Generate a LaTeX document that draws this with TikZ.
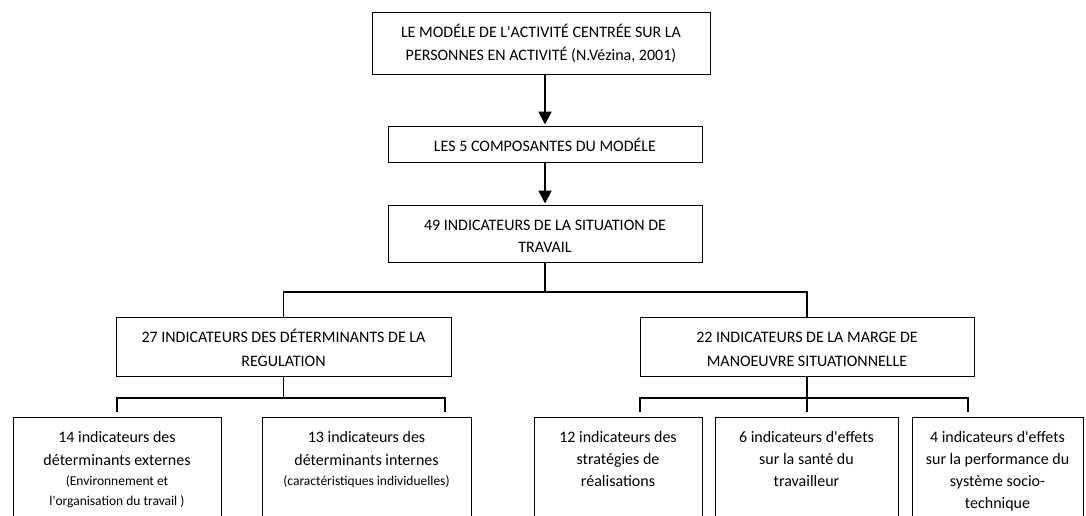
\documentclass[tikz,border=0pt]{standalone}
\usepackage{fontspec}
\setmainfont{Carlito}
\usetikzlibrary{arrows.meta}
\begin{document}
\begin{tikzpicture}[x=1pt,y=-1pt,
  box/.style={draw=black, line width=0.9pt, inner sep=0pt, outer sep=0pt, fill=white, anchor=north west, font=\fontsize{16}{23}\selectfont},
  conn/.style={draw=black, line width=1.5pt},
  arr/.style={draw=black, line width=2pt, -{Triangle[width=13pt,length=13pt]}, shorten >=1.5pt}]
\useasboundingbox[fill=white] (0,0) rectangle (1086,515);
\newcommand\smalltxt{\fontsize{13.5}{20}\selectfont}
% top chain
\node[box] (m) at (372,12) {\parbox[c][62pt][t]{338pt}{\centering\rule{0pt}{25pt}LE MODÉLE DE L\textquotesingle ACTIVITÉ CENTRÉE SUR LA\\PERSONNES EN ACTIVITÉ (N.Vézina, 2001)}};
\node[box] (c5) at (388,126) {\parbox[c][36pt][t]{314pt}{\centering\rule{0pt}{25pt}LES 5 COMPOSANTES DU MODÉLE}};
\node[box, font=\fontsize{16}{22}\selectfont] (s) at (388,205) {\parbox[c][57pt][t]{314pt}{\centering\rule{0pt}{25pt}49 INDICATEURS DE LA SITUATION DE\\TRAVAIL}};
% second level
\node[box, font=\fontsize{16}{24}\selectfont] (d27) at (116,317) {\parbox[c][59pt][t]{335pt}{\centering\rule{0pt}{25.5pt}27 INDICATEURS DES DÉTERMINANTS DE LA\\REGULATION}};
\node[box, font=\fontsize{16}{24}\selectfont] (d22) at (640,317) {\parbox[c][59pt][t]{334pt}{\centering\rule{0pt}{25.5pt}22 INDICATEURS DE LA MARGE DE\\MANOEUVRE SITUATIONNELLE}};
% bottom row
\node[box] (b14) at (13,417) {\parbox[c][104pt][t]{208pt}{\centering\rule{0pt}{25pt}14 indicateurs des\\déterminants externes\par
  {\smalltxt (Environnement et\\l\textquotesingle organisation du travail )\par}}};
\node[box] (b13) at (262,417) {\parbox[c][104pt][t]{209pt}{\centering\rule{0pt}{25pt}13 indicateurs des\\déterminants internes\par
  {\smalltxt (caractéristiques individuelles)\par}}};
\node[box, font=\fontsize{16}{22}\selectfont] (b12) at (534,417) {\parbox[c][104pt][t]{168pt}{\centering\rule{0pt}{25pt}12 indicateurs des\\stratégies de\\réalisations}};
\node[box, font=\fontsize{16}{22}\selectfont] (b6) at (715,417) {\parbox[c][104pt][t]{183pt}{\centering\rule{0pt}{25pt}6 indicateurs d\textquotesingle effets\\sur la santé du\\travailleur}};
\node[box, font=\fontsize{16}{22}\selectfont] (b4) at (912,417) {\parbox[c][104pt][t]{171pt}{\centering\rule{0pt}{25pt}4 indicateurs d\textquotesingle effets\\sur la performance du\\système socio-\\technique}};
% arrows
\draw[arr] (m.south -| c5.north) -- (c5.north);
\draw[arr] (c5.south) -- (s.north);
% connectors
\coordinate (h1) at (0,292);
\coordinate (h2) at (0,398);
\coordinate (e1) at (117,412);
\coordinate (e2) at (445,412);
\coordinate (e3) at (640,412);
\coordinate (e4) at (807,412);
\coordinate (e5) at (968,412);
\draw[conn] (s.south) -- (s.south |- h1);
\draw[conn] (d27.north) |- (d22.north |- h1) -- (d22.north);
\draw[conn] (d27.south) -- (d27.south |- h2);
\draw[conn] (e1) |- (e2 |- h2) -- (e2);
\draw[conn] (d22.south) -- (e4);
\draw[conn] (e3) |- (e5 |- h2) -- (e5);
\end{tikzpicture}
\end{document}
